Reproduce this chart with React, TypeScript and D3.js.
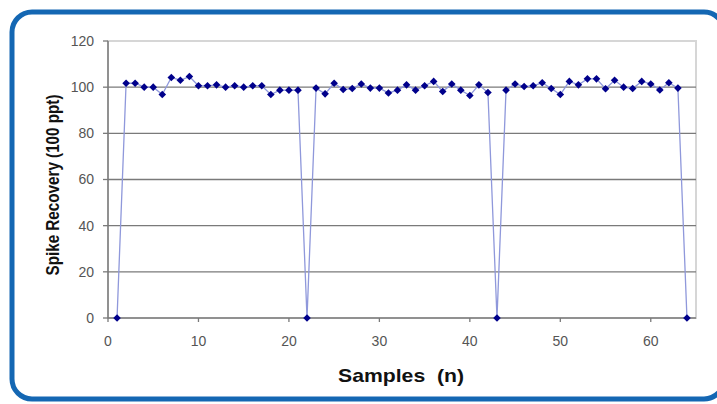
import React from "react";
import * as d3 from "d3";

const samples: number[] = Array.from({ length: 64 }, (_, i) => i + 1);
const recovery: number[] = [
  0, 101.7, 101.7, 100, 100, 96.8, 104.2, 103, 104.6, 100.6,
  100.6, 101, 100, 100.6, 100, 100.6, 100.6, 96.8, 98.7, 98.7,
  98.7, 0, 99.6, 97.1, 101.7, 99, 99.4, 101.4, 99.6, 99.6,
  97.5, 98.7, 101, 98.7, 100.6, 102.5, 98.1, 101.4, 98.7, 96.4,
  101, 97.7, 0, 98.7, 101.4, 100.3, 100.6, 101.9, 99.4, 96.8,
  102.5, 101, 103.6, 103.6, 99.3, 103, 100, 99.4, 102.5, 101.4,
  98.8, 101.9, 99.6, 0,
];
const xTicks: number[] = [0, 10, 20, 30, 40, 50, 60];
const yTicks: number[] = [0, 20, 40, 60, 80, 100, 120];
const xTitle = "Samples  (n)";
const yTitle = "Spike Recovery (100 ppt)";

export default function App() {
  const W = 717, H = 404;
  const left = 108, right = 696, top = 41, bottom = 318;
  const x = d3.scaleLinear().domain([0, 65]).range([left, right]);
  const y = d3.scaleLinear().domain([0, 120]).range([bottom, top]);
  const pts = samples.map((s, i) => [x(s), y(recovery[i])] as [number, number]);
  const line = d3.line()(pts) || "";
  const font = "'Liberation Sans', Arial, sans-serif";
  const r = 3.8;
  return (
    <svg width={W} height={H} style={{ position: "absolute", left: 0, top: 0, background: "#fff" }}>
      <rect x={0} y={0} width={W} height={H} fill="#fff" />
      <rect x={12} y={12} width={712} height={387} rx={20} ry={20} fill="none" stroke="#1467b3" strokeWidth={5} />
      <rect x={left} y={top} width={right - left} height={bottom - top} fill="none" stroke="#d6d6d6" strokeWidth={2} />
      {yTicks.filter((t) => t > 0 && t < 120).map((t) => (
        <line key={"g" + t} x1={left} x2={right} y1={y(t)} y2={y(t)} stroke="#7a7a7a" strokeWidth={1.3} />
      ))}
      <line x1={left} x2={left} y1={top} y2={bottom} stroke="#7a7a7a" strokeWidth={1.5} />
      <line x1={left} x2={right} y1={bottom} y2={bottom} stroke="#7a7a7a" strokeWidth={1.5} />
      {yTicks.map((t) => (
        <g key={"y" + t}>
          <line x1={left - 5} x2={left} y1={y(t)} y2={y(t)} stroke="#7a7a7a" strokeWidth={1.3} />
          <text x={94} y={y(t)} dy="0.35em" textAnchor="end" fontFamily={font} fontSize={14} fill="#555">{t}</text>
        </g>
      ))}
      {xTicks.map((t) => (
        <g key={"x" + t}>
          <line x1={x(t)} x2={x(t)} y1={bottom} y2={bottom + 4} stroke="#7a7a7a" strokeWidth={1.3} />
          <text x={x(t)} y={346} textAnchor="middle" fontFamily={font} fontSize={14} fill="#555">{t}</text>
        </g>
      ))}
      <path d={line} fill="none" stroke="#8f98db" strokeWidth={1.3} />
      {pts.map(([px, py], i) => (
        <path key={"m" + i} d={`M${px},${py - r}L${px + r},${py}L${px},${py + r}L${px - r},${py}Z`} fill="#00008b" />
      ))}
      <text x={401} y={382} textAnchor="middle" fontFamily={font} fontWeight="bold" fontSize={18.5}
        textLength={126} lengthAdjust="spacingAndGlyphs" fill="#111" style={{ whiteSpace: "pre" }}>{xTitle}</text>
      <text transform={`translate(59,185) rotate(-90)`} textAnchor="middle" fontFamily={font} fontWeight="bold" fontSize={17.5}
        textLength={181} lengthAdjust="spacingAndGlyphs" fill="#111">{yTitle}</text>
    </svg>
  );
}
